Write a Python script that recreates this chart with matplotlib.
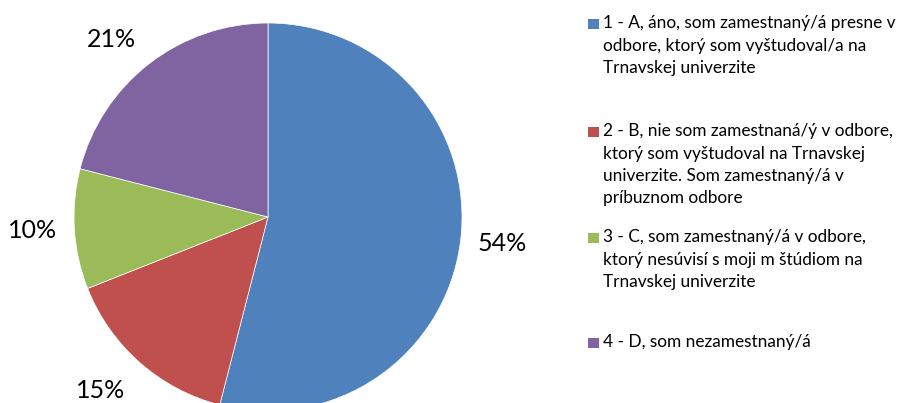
import numpy as np
import matplotlib
matplotlib.use("Agg")
import matplotlib.pyplot as plt
from matplotlib.patches import Rectangle

plt.rcParams['font.family'] = ['Lato', 'DejaVu Sans']

# podiel odpovedi v percentach
values = [54, 15, 10, 21]
pct_labels = ["54%", "15%", "10%", "21%"]
colors = ["#4F81BD", "#C0504D", "#9BBB59", "#8064A2"]
legend_labels = [
    "1 - A, áno, som zamestnaný/á presne v\nodbore, ktorý som vyštudoval/a na\nTrnavskej univerzite",
    "2 - B, nie som zamestnaná/ý v odbore,\nktorý som vyštudoval na Trnavskej\nuniverzite. Som zamestnaný/á v\npríbuznom odbore",
    "3 - C, som zamestnaný/á v odbore,\nktorý nesúvisí s moji m štúdiom na\nTrnavskej univerzite",
    "4 - D, som nezamestnaný/á",
]

W, H = 898, 403
fig = plt.figure(figsize=(W / 100, H / 100), dpi=100)

# kolac: stred (268, 217) px, polomer 194 px
cx, cy, r = 268, 217, 194
ax = fig.add_axes([(cx - r) / W, (H - cy - r) / H, 2 * r / W, 2 * r / H])
wedges, _ = ax.pie(values, colors=colors, startangle=90, counterclock=False,
                   wedgeprops=dict(edgecolor="white", linewidth=0.5))

# popisky ako v Exceli - roh textu pri kolaci
for w, lab in zip(wedges, pct_labels):
    th = np.deg2rad((w.theta1 + w.theta2) / 2)
    c, s = np.cos(th), np.sin(th)
    ha = "left" if c > 0 else "right"
    d = 1.11
    if abs(s) < 0.5:
        va = "center"
        d = 1.09
    elif s > 0:
        va = "baseline"
    else:
        va = "top"
    ax.text(d * c, d * s, lab, ha=ha, va=va, fontsize=18, color="black")

ax.set_xlim(-1, 1)
ax.set_ylim(-1, 1)
ax.set_aspect("equal")
ax.axis("off")

# legenda vpravo
start_y = [24, 132, 238, 343]
for lab, col, y in zip(legend_labels, colors, start_y):
    fig.patches.append(Rectangle((588 / W, 1 - (y + 5) / H), 11 / W, 10 / H,
                                 facecolor=col, edgecolor="none",
                                 transform=fig.transFigure))
    fig.text(603 / W, 1 - (y - 9) / H, lab, fontsize=12.4, va="top", ha="left",
             linespacing=1.5, color="#000000")

fig.savefig("out.png", dpi=100)
